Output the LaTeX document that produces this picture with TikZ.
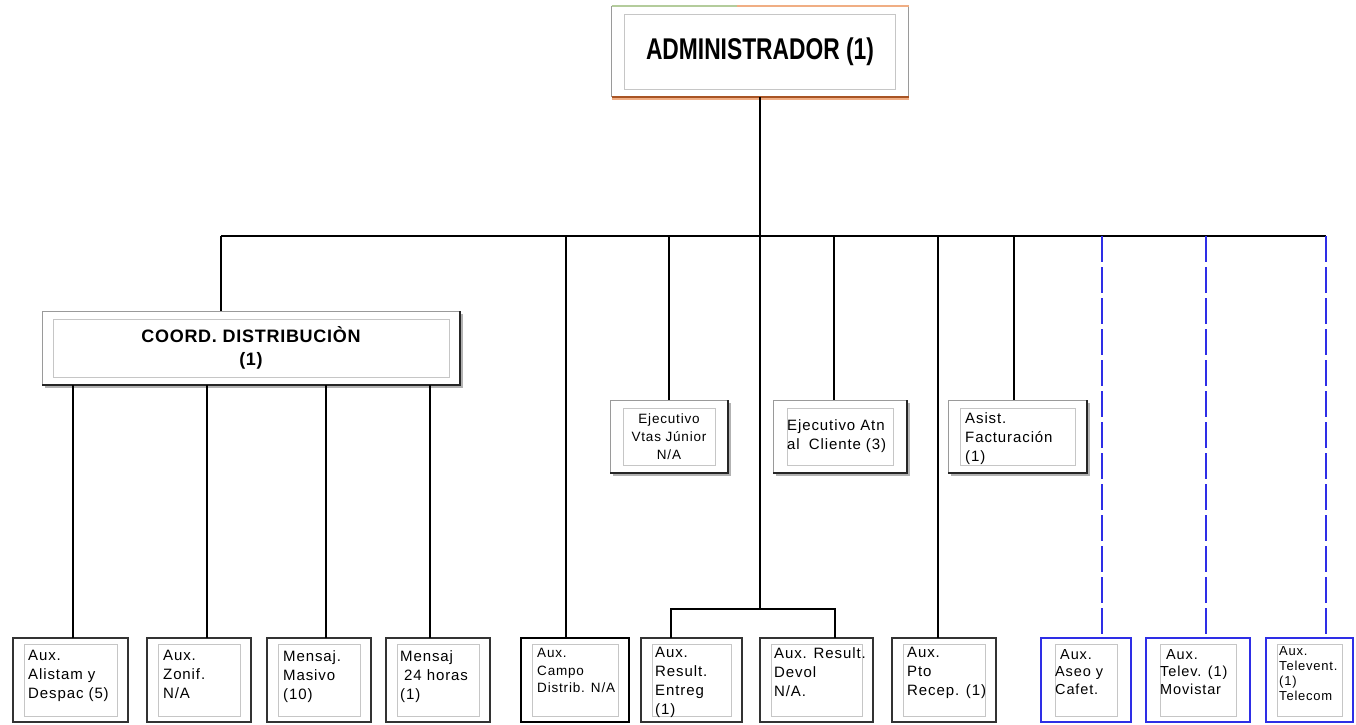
\documentclass[tikz,border=0pt]{standalone}
\usepackage{fontspec}
\usepackage{graphicx}
\setmainfont{Liberation Sans}
\newfontfamily\boxfont[LetterSpace=6]{Liberation Sans}
\newfontfamily\headfont[LetterSpace=4]{Liberation Sans}

\definecolor{lineblue}{HTML}{2E2EE6}
\definecolor{framegray}{HTML}{9A9A9A}
\definecolor{innergray}{HTML}{C6C6C6}
\definecolor{admgreen}{HTML}{B4CC9C}
\definecolor{admorange}{HTML}{F0AE84}
\definecolor{admbrown}{HTML}{A85424}

\begin{document}
\begin{tikzpicture}[x=1pt,y=-1pt,
  conn/.style={line width=1.4pt, black},
  dashconn/.style={line width=1.4pt, lineblue, dash pattern=on 26pt off 5pt},
  boxbase/.style={rectangle, inner sep=0pt, outer sep=0pt, fill=white},
  shadebox/.style={boxbase, draw=framegray, line width=0.8pt},
  plainbox/.style={boxbase, draw=black!80, line width=1.5pt, minimum height=84pt},
  heavybox/.style={boxbase, draw=black, line width=2.4pt, minimum height=84pt},
  bluebox/.style={boxbase, draw=lineblue, line width=1.8pt, minimum height=84pt},
  innerframe/.style={innergray, line width=0.8pt},
  darkedge/.style={black!85, line width=2.2pt},
  softedge/.style={black!30, line width=2pt},
  smalltxt/.style={font=\boxfont\fontsize{15}{19}\selectfont, align=left, inner sep=0pt, anchor=north west},
]
\useasboundingbox (0,0) rectangle (1356,724);
\fill[white] (0,0) rectangle (1356,724);

% ---- top box ----
\node[boxbase, minimum width=297pt, minimum height=91pt,
      font=\bfseries\fontsize{30}{34}\selectfont] (admin) at (760,51.5)
      {\scalebox{0.76}[1]{ADMINISTRADOR (1)}};

% ---- coordination box ----
\node[shadebox, minimum width=418pt, minimum height=74pt, align=center,
      font=\headfont\bfseries\fontsize{18}{23}\selectfont] (coord) at (251,348)
      {COORD. DISTRIBUCIÒN\\(1)};

% ---- middle row ----
\node[shadebox, minimum width=118pt, minimum height=73pt, align=center,
      font=\boxfont\fontsize{13.5}{18}\selectfont] (vtas) at (669,436.5)
      {Ejecutivo\\Vtas Júnior\\N/A};
\node[shadebox, minimum width=134pt, minimum height=73pt] (atn) at (840,436.5) {};
\node[shadebox, minimum width=139pt, minimum height=73pt] (asist) at (1017.5,436.5) {};

% ---- bottom row ----
\node[plainbox, minimum width=115pt] (b1) at (70.5,680) {};
\node[plainbox, minimum width=104pt] (b2) at (199,680) {};
\node[plainbox, minimum width=104pt] (b3) at (319,680) {};
\node[plainbox, minimum width=104pt] (b4) at (438,680) {};
\node[heavybox, minimum width=108pt] (b5) at (575,680) {};
\node[plainbox, minimum width=101pt] (b6) at (691.5,680) {};
\node[plainbox, minimum width=113pt] (b7) at (816.5,680) {};
\node[plainbox, minimum width=104pt] (b8) at (944,680) {};
\node[bluebox, minimum width=90pt] (b9) at (1086,680) {};
\node[bluebox, minimum width=104pt] (b10) at (1198,680) {};
\node[bluebox, minimum width=87pt] (b11) at (1309.5,680) {};

% inner frames
\foreach \n/\dx/\dy in {admin/13/8, coord/11/8, vtas/13/8, atn/14/8, asist/12/8,
    b1/11/6, b2/11/6, b3/11/6, b4/11/6, b5/11/6, b6/11/6, b7/11/6, b8/11/6,
    b9/14/6, b10/14/6, b11/11/6}
  \draw[innerframe] ([shift={(\dx pt,-\dy pt)}]\n.north west)
                    rectangle ([shift={(-\dx pt,\dy pt)}]\n.south east);

% raised edges of the shaded boxes
\foreach \n in {coord, vtas, atn, asist} {
  \draw[softedge] ([shift={(2pt,-3pt)}]\n.north east) -- ([shift={(2pt,-2pt)}]\n.south east)
                  -- ([shift={(3pt,-2pt)}]\n.south west);
  \draw[darkedge] (\n.north east) -- (\n.south east) -- (\n.south west);
}

% edges of the top box
\draw[framegray, line width=0.8pt] (admin.south west) -- (admin.north west);
\draw[framegray, line width=0.8pt] (admin.north east) -- (admin.south east);
\draw[admgreen, line width=1.6pt] (admin.north west) -- ([xshift=125pt]admin.north west);
\draw[admorange, line width=1.6pt] ([xshift=125pt]admin.north west) -- (admin.north east);
\draw[admorange, line width=1.6pt] ([yshift=-2pt]admin.south west) -- ([yshift=-2pt]admin.south east);
\draw[admbrown, line width=2.2pt] (admin.south west) -- (admin.south east);

% ---- texts ----
\node[smalltxt] (atntxt) at ([shift={(14pt,-19pt)}]atn.north west) {Ejecutivo Atn\\al\hspace{4pt} Cliente (3)};
\node[smalltxt] (asisttxt) at ([shift={(17pt,-12pt)}]asist.north west) {Asist.\\Facturación\\(1)};

\node[smalltxt] (t1) at ([shift={(15pt,-12pt)}]b1.north west) {Aux.\\Alistam y\\Despac (5)};
\node[smalltxt] (t2) at ([shift={(16pt,-12pt)}]b2.north west) {Aux.\\Zonif.\\N/A};
\node[smalltxt] (t3) at ([shift={(16pt,-12pt)}]b3.north west) {Mensaj.\\Masivo\\(10)};
\node[smalltxt] (t4) at ([shift={(14pt,-12pt)}]b4.north west) {Mensaj\\\hspace{4pt}24 horas\\(1)};
\node[smalltxt, font=\boxfont\fontsize{13.5}{17.5}\selectfont] (t5) at ([shift={(16pt,-10pt)}]b5.north west) {Aux.\\Campo\\Distrib. N/A};
\node[smalltxt] (t6) at ([shift={(14pt,-9pt)}]b6.north west) {Aux.\\Result.\\Entreg\\(1)};
\node[smalltxt] (t7) at ([shift={(14pt,-9pt)}]b7.north west) {Aux. Result.\\Devol\\N/A.};
\node[smalltxt] (t8) at ([shift={(15pt,-9pt)}]b8.north west) {Aux.\\Pto\\Recep. (1)};
\node[smalltxt, font=\boxfont\fontsize{14.5}{17.5}\selectfont] (t9) at ([shift={(14pt,-11pt)}]b9.north west) {\hspace{5pt}Aux.\\Aseo y\\Cafet.};
\node[smalltxt, font=\boxfont\fontsize{14.5}{17.5}\selectfont] (t10) at ([shift={(14pt,-11pt)}]b10.north west) {\hspace{6pt}Aux.\\Telev. (1)\\Movistar};
\node[smalltxt, font=\boxfont\fontsize{13}{15}\selectfont] (t11) at ([shift={(13pt,-8pt)}]b11.north west) {Aux.\\Televent.\\(1)\\Telecom};

% ---- connectors ----
\coordinate (busY) at (0,236);
\coordinate (brY) at (0,609);

\coordinate (d0) at ([xshift=-30pt]coord.north);
\coordinate (d5) at ([xshift=-9pt]b5.north);
\coordinate (dv) at (vtas.north);
\coordinate (da) at ([xshift=-6pt]atn.north);
\coordinate (d8) at ([xshift=-6pt]b8.north);
\coordinate (ds) at ([xshift=-3.5pt]asist.north);
\coordinate (d9) at ([xshift=16pt]b9.north);
\coordinate (d10) at ([xshift=8pt]b10.north);
\coordinate (d11) at ([xshift=16.5pt]b11.north);
\coordinate (d1) at ([xshift=2.5pt]b1.north);
\coordinate (d2) at ([xshift=8pt]b2.north);
\coordinate (d3) at ([xshift=7pt]b3.north);
\coordinate (d4) at ([xshift=-8pt]b4.north);
\coordinate (d6) at ([xshift=-20.5pt]b6.north);
\coordinate (d7) at ([xshift=18.5pt]b7.north);

% main trunk and bus
\draw[conn] (admin.south) -- (admin.south |- brY);
\draw[conn] (d0 |- busY) -- (d11 |- busY);

% drops from the bus
\foreach \d in {d0, d5, dv, da, d8, ds}
  \draw[conn] (\d |- busY) -- (\d);
\foreach \d in {d9, d10, d11}
  \draw[dashconn] (\d |- busY) -- (\d);

% drops under the coordination box
\foreach \d in {d1, d2, d3, d4}
  \draw[conn] (\d |- coord.south) -- (\d);

% results bracket
\draw[conn] (d6) -- (d6 |- brY) -- (d7 |- brY) -- (d7);
\end{tikzpicture}
\end{document}
